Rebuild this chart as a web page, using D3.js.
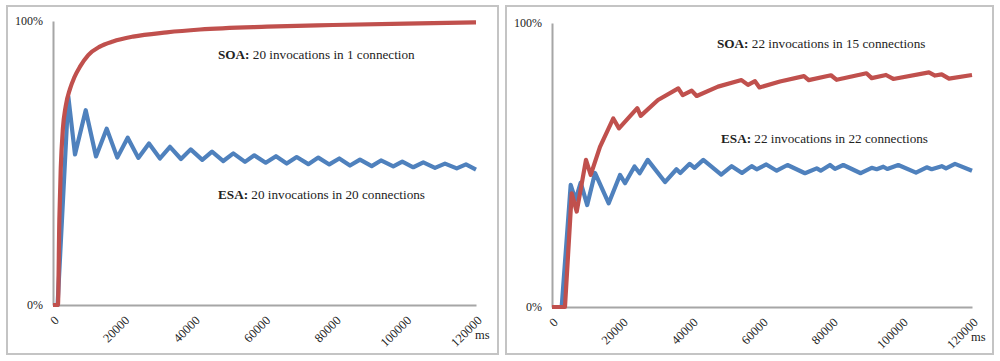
<!DOCTYPE html>
<html><head><meta charset="utf-8">
<script src="https://cdn.jsdelivr.net/npm/d3@7"></script>
<style>
html,body{margin:0;padding:0;background:#fff;}
svg{display:block;}
text{font-family:"Liberation Serif","Times New Roman",serif;fill:#222;}
</style></head>
<body>
<svg id="c" width="1000" height="361"></svg>
<script>
// ---- data ----
const xTickValues = [0, 20000, 40000, 60000, 80000, 100000, 120000];
const yTickValues = [0, 100];
const xUnit = "ms";

// Left chart: SOA 20 invocations in 1 connection  [ms, %]
const leftSOA = [[0,0],[1400,0],[1800,30],[2200,48],[2800,62],[3600,70],[4800,76],[6000,80],[7700,84],[10000,88],[13300,91],[17000,92.8],[22700,94.5],[32300,96],[41700,97],[60700,98],[79400,98.6],[100000,99.1],[120000,99.5]];
// Left chart: ESA 20 invocations in 20 connections
const leftESA = [[0,0],[1300,0],[4340,73.4],[6240,53.0],[9280,68.6],[12200,52.3],[15230,62.1],[18240,51.9],[21190,58.9],[24200,51.8],[27230,56.9],[30350,51.6],[33190,55.7],[36310,51.4],[39060,54.8],[42350,51.1],[45110,54.0],[48310,50.7],[51150,53.4],[54470,50.4],[57100,52.7],[60340,50.1],[63260,52.4],[66300,49.8],[69130,52.1],[72430,49.6],[75260,51.9],[78380,49.5],[81220,51.6],[84250,49.1],[87090,51.2],[90410,48.9],[93050,50.9],[96540,48.8],[99090,50.5],[102210,48.5],[105050,50.2],[108370,48.3],[111200,49.8],[114530,48.1],[117160,49.5],[120000,47.7]];

// Right chart: SOA 22 invocations in 15 connections
const rightSOA = [[0,0],[3710,0],[5630,40.0],[7060,33.6],[9710,51.8],[11060,46.5],[13710,56.4],[17510,66.4],[19140,62.9],[24370,70.0],[25340,67.3],[30280,72.9],[36080,77.0],[37340,74.6],[39910,76.2],[41340,74.3],[47430,77.6],[54140,79.9],[56000,78.2],[58000,79.5],[59280,77.3],[65140,79.4],[72000,81.3],[73340,79.9],[79710,81.6],[81340,80.0],[89850,82.3],[91340,80.6],[95430,81.7],[97510,80.3],[107710,82.6],[109430,81.5],[111340,81.9],[113430,80.4],[120000,81.7]];
// Right chart: ESA 22 invocations in 22 connections
const rightESA = [[0,0],[2770,0],[5340,43.0],[6710,37.7],[8200,43.8],[10060,35.9],[12290,47.2],[16200,36.5],[19430,46.5],[20860,43.6],[23570,49.5],[25060,47.1],[27340,51.8],[32290,44.0],[35570,48.5],[36660,47.2],[39340,50.4],[40710,49.0],[43230,51.8],[48340,46.6],[51340,49.6],[54280,47.2],[57050,49.6],[58480,48.5],[61230,50.2],[64200,48.0],[67280,50.0],[72280,47.1],[75630,48.8],[76770,48.0],[79420,50.0],[80850,48.6],[83230,50.0],[88200,47.1],[91340,49.0],[92770,48.5],[94660,49.4],[95800,48.6],[98940,50.0],[104000,47.3],[107050,49.2],[108480,48.5],[111340,49.6],[112570,48.8],[115140,50.4],[120000,48.0]];

const leftLabels = [["SOA:", " 20 invocations in 1 connection"], ["ESA:", " 20 invocations in 20 connections"]];
const rightLabels = [["SOA:", " 22 invocations in 15 connections"], ["ESA:", " 22 invocations in 22 connections"]];

// ---- drawing ----
const svg = d3.select("#c");
const RED = "#C0504D", BLUE = "#4F81BD", AXIS = "#A6A6A6";

function panel(cfg) {
  // frame
  svg.append("rect").attr("x", cfg.fx).attr("y", cfg.fy).attr("width", cfg.fw).attr("height", cfg.fh)
    .attr("fill", "#fff").attr("stroke", "#C4C4C4").attr("stroke-width", 2);

  const x = d3.scaleLinear().domain([0, 120000]).range([cfg.x0, cfg.x1]);
  const y = d3.scaleLinear().domain([0, 100]).range([cfg.y0, cfg.y1]);

  // y axis
  const ya = svg.append("g").attr("transform", `translate(${cfg.x0},0)`)
    .call(d3.axisLeft(y).tickValues(yTickValues).tickSize(0).tickPadding(10).tickFormat(d => d + "%"));
  ya.select(".domain").attr("stroke", AXIS).attr("stroke-width", 2);
  ya.selectAll("text").style("font-family", "Liberation Serif").style("font-size", "12px").attr("fill", "#222");

  // x axis
  const xa = svg.append("g").attr("transform", `translate(0,${cfg.y0})`)
    .call(d3.axisBottom(x).tickValues(xTickValues).tickSize(0).tickFormat(d => String(d)));
  xa.select(".domain").attr("stroke", AXIS).attr("stroke-width", 2);
  xa.selectAll("text")
    .style("font-family", "Liberation Serif").style("font-size", "12.5px").attr("fill", "#222")
    .attr("text-anchor", "end").attr("y", 0).attr("dy", "0.35em")
    .attr("transform", "translate(3,13) rotate(-45)");

  svg.append("text").attr("x", cfg.x1 - 1).attr("y", cfg.y0 + 34)
    .style("font-size", "12.5px").text(xUnit);

  const line = d3.line().x(d => x(d[0])).y(d => y(d[1]));
  svg.append("path").datum(cfg.esa).attr("fill", "none").attr("stroke", BLUE).attr("stroke-width", 4.2)
    .attr("stroke-linejoin", "round").attr("stroke-linecap", "butt").attr("d", line.curve(d3.curveLinear));
  svg.append("path").datum(cfg.soa).attr("fill", "none").attr("stroke", RED).attr("stroke-width", 4.2)
    .attr("stroke-linejoin", "round").attr("stroke-linecap", "butt")
    .attr("d", d3.line().x(d => x(d[0])).y(d => y(d[1])).curve(cfg.soaCurve)(cfg.soa));

  cfg.labels.forEach((lab, i) => {
    const t = svg.append("text").attr("x", cfg.lx[i]).attr("y", cfg.ly[i]).style("font-size", "13.2px");
    t.append("tspan").style("font-weight", "bold").text(lab[0]);
    t.append("tspan").text(lab[1]);
  });
}

panel({fx: 7, fy: 6, fw: 491, fh: 348, x0: 53, x1: 476, y0: 305, y1: 21,
  soa: leftSOA, esa: leftESA, soaCurve: d3.curveMonotoneX, labels: leftLabels,
  lx: [218, 218], ly: [59, 199]});
panel({fx: 506, fy: 6, fw: 487, fh: 348, x0: 552, x1: 972, y0: 307, y1: 23,
  soa: rightSOA, esa: rightESA, soaCurve: d3.curveLinear, labels: rightLabels,
  lx: [717, 721], ly: [48, 143]});
</script>
</body></html>
